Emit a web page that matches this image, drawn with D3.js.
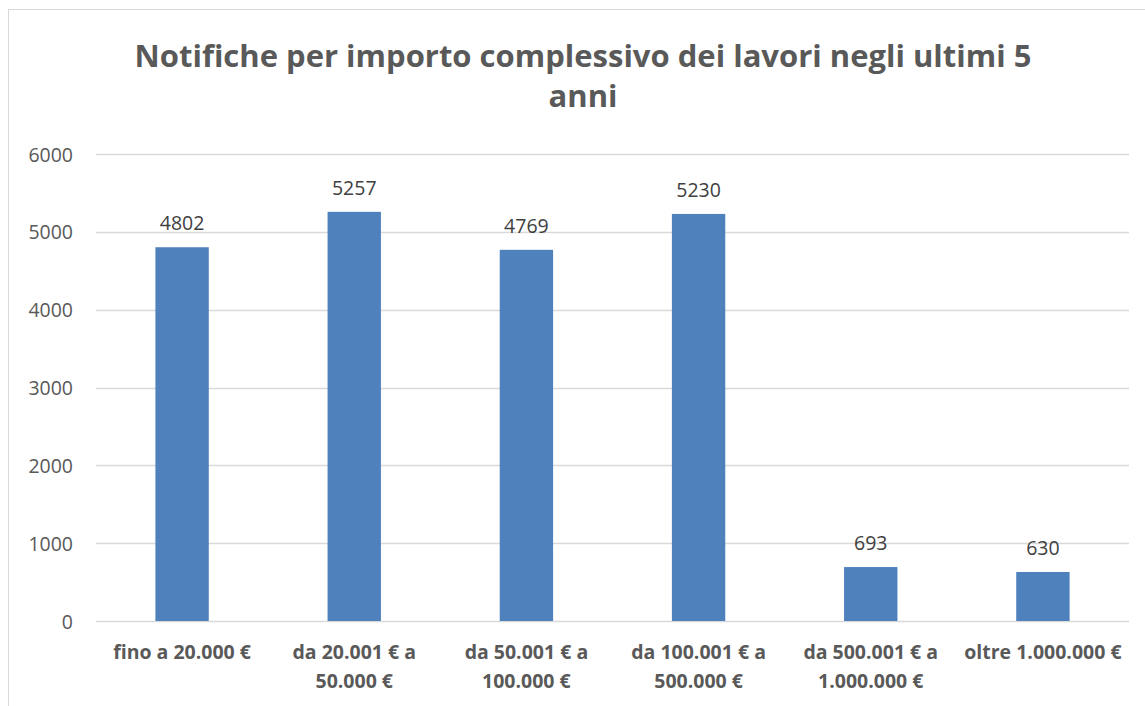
<!DOCTYPE html>
<meta charset="utf-8">
<style>
  body { margin: 0; background: #fff; }
  text { font-family: "Open Sans", "Liberation Sans", sans-serif; }
</style>
<body>
<svg width="1145" height="706"></svg>
</body>
<script src="https://d3js.org/d3.v7.min.js"></script>
<script>

var categories = [
  ["fino a 20.000 €"],
  ["da 20.001 € a", "50.000 €"],
  ["da 50.001 € a", "100.000 €"],
  ["da 100.001 € a", "500.000 €"],
  ["da 500.001 € a", "1.000.000 €"],
  ["oltre 1.000.000 €"]
];
var values = [4802, 5257, 4769, 5230, 693, 630];
var yTicks = [0, 1000, 2000, 3000, 4000, 5000, 6000];
var titleLines = ["Notifiche per importo complessivo dei lavori negli ultimi 5", "anni"];

var svg = d3.select("svg"),
    plotLeft = 96, plotRight = 1129, plotTop = 154, plotBottom = 621;

// chart frame
svg.append("rect")
    .attr("x", 8.5).attr("y", 9.5)
    .attr("width", 1150).attr("height", 720)
    .attr("fill", "none")
    .attr("stroke", "#d9d9d9");

svg.selectAll(".title")
    .data(titleLines)
    .enter().append("text")
    .attr("x", 583)
    .attr("y", (d, i) => 67 + i * 40)
    .attr("text-anchor", "middle")
    .attr("font-size", 31)
    .attr("font-weight", "bold")
    .attr("fill", "#595959")
    .text(d => d);

var x = d3.scaleBand()
    .domain(d3.range(categories.length))
    .range([plotLeft, plotRight])
    .paddingInner(0.69)
    .paddingOuter(0.345);

var y = d3.scaleLinear()
    .domain([0, 6000])
    .range([plotBottom, plotTop]);

// gridlines
svg.selectAll(".grid")
    .data(yTicks)
    .enter().append("line")
    .attr("x1", plotLeft).attr("x2", plotRight)
    .attr("y1", d => Math.round(y(d)) + 0.5)
    .attr("y2", d => Math.round(y(d)) + 0.5)
    .attr("stroke", "#d9d9d9")
    .attr("stroke-width", 1.5);

// y tick labels
svg.selectAll(".ylab")
    .data(yTicks)
    .enter().append("text")
    .attr("x", 73)
    .attr("y", d => y(d) + 7.5)
    .attr("text-anchor", "end")
    .attr("font-size", 19.5)
    .attr("fill", "#595959")
    .text(d => d);

// bars
svg.selectAll(".bar")
    .data(values)
    .enter().append("rect")
    .attr("x", (d, i) => x(i))
    .attr("y", d => y(d))
    .attr("width", x.bandwidth())
    .attr("height", d => plotBottom - y(d))
    .attr("fill", "#4f81bd");

// data labels
svg.selectAll(".vlab")
    .data(values)
    .enter().append("text")
    .attr("x", (d, i) => x(i) + x.bandwidth() / 2)
    .attr("y", d => y(d) - 17)
    .attr("text-anchor", "middle")
    .attr("font-size", 19.5)
    .attr("fill", "#404040")
    .text(d => d);

// x category labels
var xl = svg.selectAll(".xlab")
    .data(categories)
    .enter().append("text")
    .attr("text-anchor", "middle")
    .attr("font-size", 19.5)
    .attr("font-weight", "bold")
    .attr("fill", "#595959");

xl.each(function(d, i) {
  var cx = x(i) + x.bandwidth() / 2;
  d3.select(this).selectAll("tspan")
      .data(d)
      .enter().append("tspan")
      .attr("x", cx)
      .attr("y", (s, j) => 659 + j * 29)
      .text(s => s);
});

</script>
